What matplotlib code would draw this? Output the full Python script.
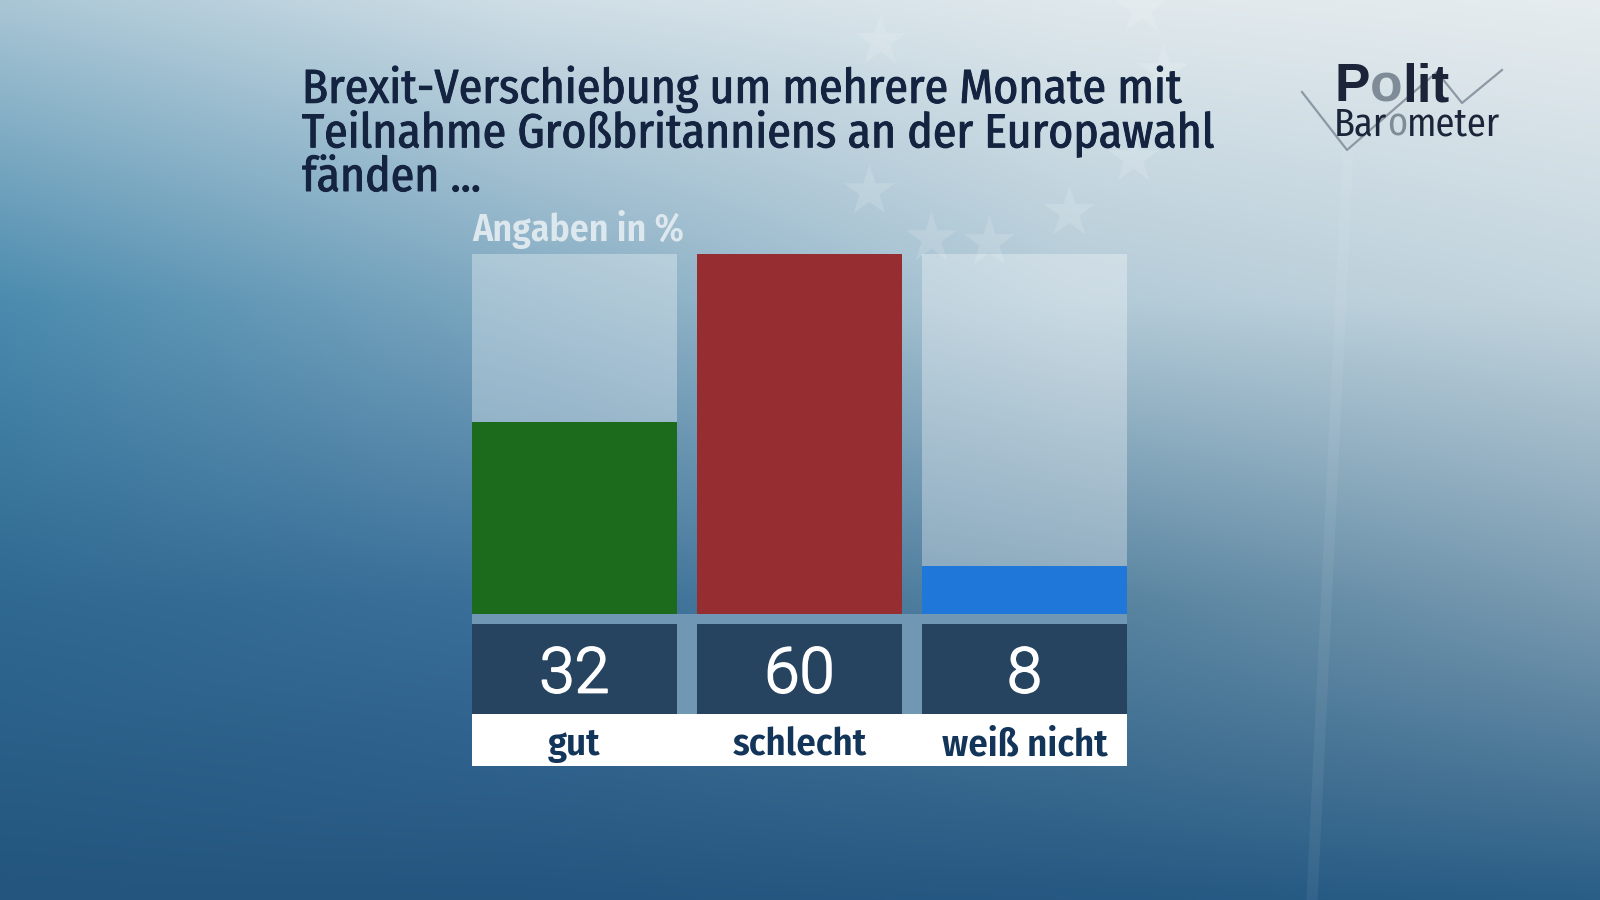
import numpy as np
import matplotlib
matplotlib.use("Agg")
import matplotlib.pyplot as plt
import matplotlib.patheffects as pe
from matplotlib.patches import Rectangle
from matplotlib.font_manager import FontProperties, fontManager

# ---------------- data ----------------
categories = ["gut", "schlecht", "weiß nicht"]
values = [32, 60, 8]
bar_colors = ["#1c6b1c", "#962d30", "#1e77d9"]
title_lines = ["Brexit-Verschiebung um mehrere Monate mit",
               "Teilnahme Großbritanniens an der Europawahl",
               "fänden ..."]
subtitle = "Angaben in %"

# ---------------- fonts ----------------
FILES = [f.fname for f in fontManager.ttflist]

def by_name(names):
    for nm in names:
        for fn in FILES:
            base = fn.split("/")[-1].lower()
            if base.startswith(nm.lower() + "."):
                return FontProperties(fname=fn)
    return None

def pick_font(patterns, bold):
    for pat in patterns:
        for fn in FILES:
            low = fn.split("/")[-1].lower()
            if pat.lower() not in low:
                continue
            if "italic" in low or "oblique" in low:
                continue
            isbold = "bold" in low
            if bold != isbold:
                continue
            if not bold and any(k in low for k in ["light", "thin", "medium", "semi", "black", "extra", "book"]):
                continue
            if bold and any(k in low for k in ["semi", "extra", "black"]):
                continue
            return FontProperties(fname=fn)
    return None

cond_patterns = ["FiraSansCondensed", "RobotoCondensed", "DejaVuSansCondensed",
                 "LiberationSansNarrow", "NotoSans-Condensed", "OpenSans_Condensed",
                 "OpenSansCondensed"]
fp_regular = pick_font(cond_patterns, False) or FontProperties(family="DejaVu Sans")
fp_title = by_name(["FiraSansCondensed-Book"]) or fp_regular
fp_bold = pick_font(cond_patterns, True) or FontProperties(family="DejaVu Sans", weight="bold")
fp_label = by_name(["FiraSansCondensed-SemiBold"]) or fp_bold
fp_num = (by_name(["Roboto-Light", "Lato-Light"]) or FontProperties(family="Roboto", weight="light"))
fp_logo_bold = by_name(["LiberationSans-Bold"]) or FontProperties(family="Liberation Sans", weight="bold")

# ---------------- figure & background ----------------
W, H = 1600, 900
fig = plt.figure(figsize=(16, 9), dpi=100)
bg = fig.add_axes([0, 0, 1, 1])
bg.set_xlim(0, W)
bg.set_ylim(H, 0)
bg.axis("off")

def hx(c):
    c = c.lstrip("#")
    return [int(c[i:i + 2], 16) / 255 for i in (0, 2, 4)]

gy = [0, 300, 600, 900]
gx = [0, 530, 1070, 1600]
grid = [["#a9c6d5", "#cfdee6", "#dfe8ec", "#e6ecef"],
        ["#4b8bae", "#80a9c1", "#b2cad7", "#c3d5de"],
        ["#2f6891", "#3b709a", "#55829f", "#7a9bb1"],
        ["#23557e", "#245580", "#255882", "#2a5e86"]]
G = np.array([[hx(c) for c in row] for row in grid])
nx, ny = 320, 180
xx = np.linspace(0, W, nx)
yy = np.linspace(0, H, ny)
rows = np.stack([np.stack([np.interp(xx, gx, G[r, :, k]) for k in range(3)], -1) for r in range(4)])
img = np.stack([np.stack([np.interp(yy, gy, rows[:, i, k]) for i in range(nx)], -1) for k in range(3)], -1)
bg.imshow(img, extent=[0, W, H, 0], aspect="auto", interpolation="bicubic", zorder=0)

# faint decorative stars / flag pole
star_x = [869, 1069, 931, 989, 1133, 1163, 880, 1141]
star_y = [191, 212, 238, 242, 158, 71, 41, 8]
bg.scatter(star_x, star_y, marker="*", s=1500, color="white", alpha=0.14, lw=0, zorder=1)
bg.plot([1348, 1312], [150, 900], color="white", alpha=0.06, lw=8, zorder=1)

# ---------------- title ----------------
renderer = fig.canvas.get_renderer()

def fit_width(t, target):
    bb = t.get_window_extent(renderer)
    t.set_fontsize(t.get_fontsize() * target / bb.width)

title_color = "#142340"
probe = bg.text(0, 0, title_lines[1], fontproperties=fp_title, fontsize=30)
fit_width(probe, 912)
tsize = probe.get_fontsize()
probe.remove()
p1 = bg.text(0, 0, "Ag", fontproperties=fp_title, fontsize=tsize, linespacing=1.0)
p2 = bg.text(0, 0, "Ag\nAg", fontproperties=fp_title, fontsize=tsize, linespacing=1.0)
pitch1 = p2.get_window_extent(renderer).height - p1.get_window_extent(renderer).height
p1.remove(); p2.remove()
line_pitch = 43
first_base = 105
title = bg.text(302, first_base + line_pitch * (len(title_lines) - 1), "\n".join(title_lines),
                fontproperties=fp_title, fontsize=tsize, color=title_color, ha="left",
                va="baseline", linespacing=line_pitch / pitch1, zorder=5,
                path_effects=[pe.withStroke(linewidth=0.7, foreground=title_color)])

st = bg.text(472, 241, subtitle, fontproperties=fp_label, fontsize=22, color="#dde7ee",
             ha="left", va="baseline", zorder=5)
fit_width(st, 211)

# ---------------- logo ----------------
def draw_segments(x, y, segs, fp, size):
    for s, col in segs:
        t = bg.text(x, y, s, fontproperties=fp, fontsize=size, color=col,
                    ha="left", va="baseline", zorder=6)
        bb = t.get_window_extent(renderer)
        x += bb.width

dark_logo = "#1b2438"
grey_logo = "#7f8c98"
bg.plot([1302, 1347, 1437, 1462, 1502], [92, 150, 72, 103, 70], color="#8c98a3", lw=1.6, zorder=5)
tmp = bg.text(0, 0, "Polit", fontproperties=fp_logo_bold, fontsize=40)
fit_width(tmp, 115)
polit_size = tmp.get_fontsize()
tmp.remove()
tmp = bg.text(0, 0, "Barometer", fontproperties=fp_regular, fontsize=25)
fit_width(tmp, 166)
baro_size = tmp.get_fontsize()
tmp.remove()
draw_segments(1334, 101, [("P", dark_logo), ("o", grey_logo), ("lit", dark_logo)], fp_logo_bold, polit_size)
draw_segments(1334, 136, [("Bar", dark_logo), ("o", grey_logo), ("meter", dark_logo)], fp_regular, baro_size)

# ---------------- bars ----------------
left_px, right_px, top_px, bottom_px = 472, 1127, 254, 614
ax = fig.add_axes([left_px / W, (H - bottom_px) / H, (right_px - left_px) / W, (bottom_px - top_px) / H])
ax.set_zorder(3)
ax.patch.set_alpha(0)
n = len(values)
bw = 205 / 225
x = np.arange(n)
ax.set_xlim(-bw / 2, n - 1 + bw / 2)
vmax = max(values)
ax.set_ylim(0, vmax)
ax.axis("off")
u = (bottom_px - top_px) / vmax  # px per unit

gap_px, dark_px, white_px = 9.5, 90.5, 52
x0, x1 = ax.get_xlim()

ax.bar(x, [vmax] * n, width=bw, color="white", alpha=0.32, lw=0, zorder=1)
ax.bar(x, values, width=bw, color=bar_colors, lw=0, zorder=2)
ax.add_patch(Rectangle((x0, -(gap_px + dark_px) / u), x1 - x0, (gap_px + dark_px) / u,
                       color="#7097b3", lw=0, clip_on=False, zorder=1))
ax.bar(x, [dark_px / u] * n, bottom=-(gap_px + dark_px) / u, width=bw, color="#26445f",
       lw=0, clip_on=False, zorder=2)
ax.add_patch(Rectangle((x0, -(gap_px + dark_px + white_px) / u), x1 - x0, white_px / u,
                       color="white", lw=0, clip_on=False, zorder=2))

num_base = -(692.5 - bottom_px) / u
lab_base = -(755 - bottom_px) / u
nums = []
for xi, v in zip(x, values):
    t = ax.text(xi, num_base, str(v), fontproperties=fp_num, fontsize=48, color="white",
                ha="center", va="baseline", zorder=4, clip_on=False,
                path_effects=[pe.withStroke(linewidth=1.3, foreground="white")])
    nums.append(t)
fit_width(nums[0], 70)
for t in nums:
    t.set_fontsize(nums[0].get_fontsize())
labs = []
for xi, cat in zip(x, categories):
    t = ax.text(xi, lab_base, cat, fontproperties=fp_label, fontsize=25, color="#14355a",
                ha="center", va="baseline", zorder=4, clip_on=False)
    labs.append(t)
fit_width(labs[1], 134)
for t in labs:
    t.set_fontsize(labs[1].get_fontsize())

fig.savefig("out.png", dpi=100)
